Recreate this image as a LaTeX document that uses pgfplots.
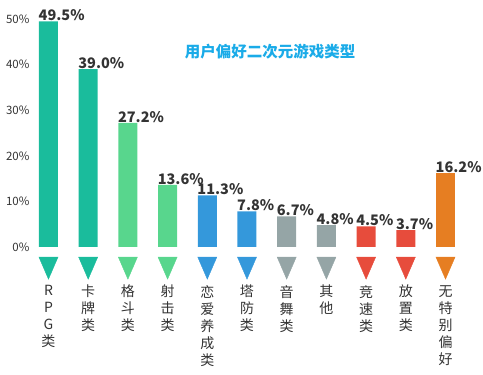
\documentclass[border=0pt]{standalone}
\usepackage{pgfplots}
\pgfplotsset{compat=1.18}
\usepackage{fontspec}
\setmainfont{Noto Sans CJK SC}
\definecolor{cTeal}{HTML}{1ABC9C}
\definecolor{cGreen}{HTML}{58D68D}
\definecolor{cBlue}{HTML}{3498DB}
\definecolor{cGray}{HTML}{95A5A6}
\definecolor{cRed}{HTML}{E74C3C}
\definecolor{cOrange}{HTML}{E67E22}
\definecolor{cTitle}{HTML}{1AABE8}
\definecolor{cText}{HTML}{333333}
\begin{document}
\begin{tikzpicture}
\path[use as bounding box] (-32.6pt,-128pt) rectangle (450.4pt,247pt);
\begin{axis}[
  at={(0pt,0pt)}, anchor=south west,
  scale only axis, width=428.8pt, height=228pt,
  xmin=-0.4, xmax=10.4, ymin=0, ymax=50,
  clip=false,
  axis lines=left, axis line style={draw=none},
  major tick length=0pt,
  ytick={0,10,20,30,40,50},
  yticklabels={0\%,10\%,20\%,30\%,40\%,50\%},
  yticklabel style={anchor=east, inner sep=0pt, xshift=-3pt, font=\fontsize{11.5}{13}\selectfont, text=cText},
  xtick={0,1,2,3,4,5,6,7,8,9,10},
  xticklabels={{R\\P\\G\\类},{卡\\牌\\类},{格\\斗\\类},{射\\击\\类},{恋\\爱\\养\\成\\类},{塔\\防\\类},{音\\舞\\类},{其\\他},{竞\\速\\类},{放\\置\\类},{无\\特\\别\\偏\\好}},
  xticklabel style={anchor=north, yshift=-38pt, inner sep=0pt, align=center, font=\fontsize{14}{17}\selectfont, text=cText},
  barstyle/.style={ybar, bar width=19pt, bar shift=0pt, draw=none, fill=#1,
    nodes near coords={\pgfmathprintnumber[fixed,precision=1,fixed zerofill,assume math mode=true]{\pgfplotspointmeta}\%},
    every node near coord/.append style={font=\bfseries\fontsize{14.5}{16}\selectfont, text=cText, anchor=south west, inner sep=0.5pt, xshift=-10.5pt}},
  tri/.style={only marks, mark=triangle*, mark size=10pt, color=#1,
    mark options={rotate=180, xscale=1.1, yscale=1.47, draw=none, fill=#1}},
]
\addplot[barstyle=cTeal] coordinates {(0,49.5) (1,39.0)};
\addplot[barstyle=cGreen] coordinates {(2,27.2) (3,13.6)};
\addplot[barstyle=cBlue] coordinates {(4,11.3) (5,7.8)};
\addplot[barstyle=cGray] coordinates {(6,6.7) (7,4.8)};
\addplot[barstyle=cRed] coordinates {(8,4.5) (9,3.7)};
\addplot[barstyle=cOrange] coordinates {(10,16.2)};
\addplot[tri=cTeal] coordinates {(0,-3.83) (1,-3.83)};
\addplot[tri=cGreen] coordinates {(2,-3.83) (3,-3.83)};
\addplot[tri=cBlue] coordinates {(4,-3.83) (5,-3.83)};
\addplot[tri=cGray] coordinates {(6,-3.83) (7,-3.83)};
\addplot[tri=cRed] coordinates {(8,-3.83) (9,-3.83)};
\addplot[tri=cOrange] coordinates {(10,-3.83)};
\node[font=\bfseries\fontsize{15.5}{18}\selectfont, text=cTitle] at (axis cs:5.58,42.8) {用户偏好二次元游戏类型};
\end{axis}
\end{tikzpicture}
\end{document}
